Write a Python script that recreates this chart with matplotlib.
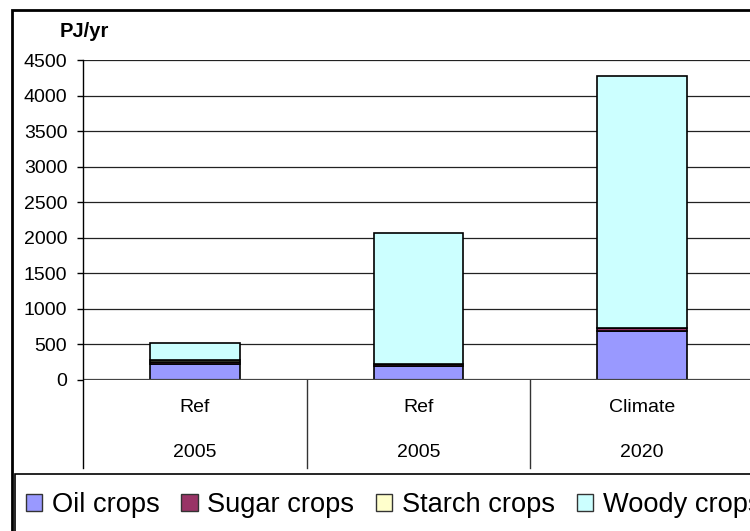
import matplotlib
matplotlib.use("Agg")
import matplotlib.pyplot as plt
from matplotlib.patches import Rectangle, Patch

plt.rcParams['font.family'] = ['Liberation Sans', 'DejaVu Sans']

scenarios = ["Ref", "Ref", "Climate"]
years = ["2005", "2005", "2020"]
series_names = ["Oil crops", "Sugar crops", "Starch crops", "Woody crops"]
oil = [225, 195, 690]
sugar = [25, 25, 40]
starch = [35, 0, 0]
woody = [230, 1850, 3550]
colors = ["#9999FF", "#993366", "#FFFFCC", "#CCFFFF"]
yticks = [0, 500, 1000, 1500, 2000, 2500, 3000, 3500, 4000, 4500]

W, H = 750, 531
fig = plt.figure(figsize=(W / 100, H / 100), dpi=100)
ax = fig.add_axes([83 / W, 151 / H, (754 - 83) / W, 320 / H])

xpos = [i + 0.5 for i in range(len(scenarios))]
bottom = [0, 0, 0]
for vals, col in zip([oil, sugar, starch, woody], colors):
    ax.bar(xpos, vals, width=0.4, bottom=bottom, color=col,
           edgecolor="black", linewidth=1.2, zorder=3)
    bottom = [b + v for b, v in zip(bottom, vals)]

ax.set_xlim(0, 3)
ax.set_ylim(0, 4500)
ax.set_yticks(yticks)
ax.set_yticklabels([str(t) for t in yticks])
ax.tick_params(axis='y', length=4.3, width=1, pad=7, labelsize=14, colors='black')
ax.set_xticks([])
for s in ax.spines.values():
    s.set_visible(False)

for t in yticks[1:]:
    ax.axhline(t, color="#222222", lw=0.9, zorder=1)
ax.axhline(0, color="#444444", lw=1.6, zorder=4)

trans = ax.get_xaxis_transform()
ext = -0.275
for x in range(len(scenarios) + 1):
    ax.plot([x, x], [ext, 0 if x > 0 else 1.0], transform=trans, clip_on=False,
            color="black" if x == 0 else "#333333", lw=1.0, zorder=5)

for x, s, yr in zip(xpos, scenarios, years):
    ax.text(x, -0.0875, s, transform=trans, ha='center', va='center', fontsize=14)
    ax.text(x, -0.228, yr, transform=trans, ha='center', va='center', fontsize=14)

fig.text(60 / W, (H - 31) / H, "PJ/yr", fontsize=14.5, fontweight='bold',
         ha='left', va='center')

# outer chart border
fig.add_artist(Rectangle((11.5 / W, -0.1), 1.2, (H - 10) / H + 0.1,
                         transform=fig.transFigure, fill=False, lw=2.0,
                         edgecolor='black'))
# legend frame
fig.add_artist(Rectangle((15 / W, -0.1), 1.2, (H - 474) / H + 0.1,
                         transform=fig.transFigure, fill=False, lw=1.2,
                         edgecolor='black'))

handles = [Patch(facecolor=c, edgecolor='#333333', linewidth=1.0) for c in colors]
fig.legend(handles, series_names, ncol=4, loc='center left',
           bbox_to_anchor=(26 / W, (H - 505) / H), frameon=False,
           fontsize=19.6, handlelength=0.6, handleheight=0.6,
           handletextpad=0.35, columnspacing=0.8, borderpad=0, borderaxespad=0)

fig.savefig("out.png", dpi=100)
